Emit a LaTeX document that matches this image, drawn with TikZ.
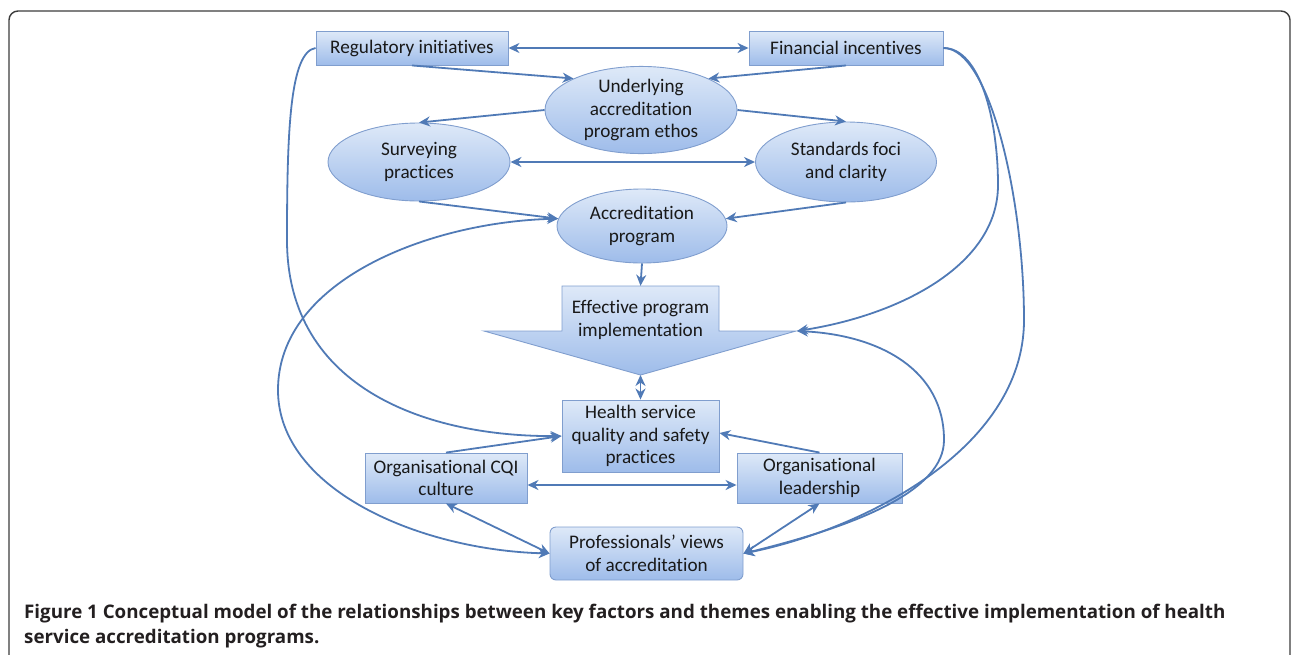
\documentclass[tikz,border=0pt]{standalone}
\usepackage{fontspec}
\setmainfont{Carlito}[Ligatures=NoCommon]
\newfontfamily\capfont{Open Sans}
\usetikzlibrary{shapes.geometric,arrows.meta}
\definecolor{boxtop}{RGB}{222,233,248}
\definecolor{boxbot}{RGB}{158,188,234}
\definecolor{boxline}{RGB}{128,158,206}
\definecolor{arrcol}{RGB}{80,122,182}
\definecolor{framecol}{RGB}{60,60,60}
\definecolor{capcol}{RGB}{35,31,32}
\definecolor{txtcol}{RGB}{25,25,25}
\tikzset{
  shadefill/.style={draw=boxline, line width=0.9pt, top color=boxtop, bottom color=boxbot},
  lbl/.style={align=center, inner sep=0pt, text=txtcol, font=\fontsize{19.2}{22.5}\selectfont},
  rbox/.style={shadefill, lbl, rectangle},
  rrbox/.style={shadefill, lbl, rectangle, rounded corners=6pt},
  ebox/.style={shadefill, lbl, ellipse},
  conn/.style={draw=arrcol, line width=1.8pt, -{Stealth[length=11pt,width=10pt,inset=3.5pt]}},
  biconn/.style={draw=arrcol, line width=1.8pt, {Stealth[length=11pt,width=10pt,inset=3.5pt]}-{Stealth[length=11pt,width=10pt,inset=3.5pt]}},
  capstyle/.style={anchor=base west, inner sep=0pt, text=capcol, font=\capfont\bfseries\fontsize{18.75}{22}\selectfont}
}
\begin{document}
\begin{tikzpicture}[x=1pt,y=-1pt]
\useasboundingbox (0,0) rectangle (1292,654);
\clip (0,0) rectangle (1292,654);
\draw[framecol, line width=1.4pt, rounded corners=9pt] (9,11) rectangle (1290,720);

% nodes
\node[rbox, minimum width=192pt, minimum height=34pt] (reg) at (412,48) {Regulatory initiatives};
\node[rbox, minimum width=194pt, minimum height=34pt] (fin) at (846,48) {Financial incentives};
\node[ebox, minimum width=192pt, minimum height=84pt] (eth) at (641,110) {Underlying\\accreditation\\program ethos};
\node[ebox, minimum width=182pt, minimum height=78pt] (sur) at (419,162) {Surveying\\practices};
\node[ebox, minimum width=181pt, minimum height=80pt] (std) at (846,162) {Standards foci\\and clarity};
\node[ebox, minimum width=170pt, minimum height=74pt] (acc) at (642,226) {Accreditation\\program};

\path[shadefill] (562,286) -- (719,286) -- (719,331) -- (796,331) -- (640.5,375) -- (484,331) -- (562,331) -- cycle;
\node[lbl, minimum width=157pt, minimum height=68pt] (eff) at (640.5,320) {Effective program\\implementation};
\coordinate (effsh) at (797,331);
\coordinate (efftip) at (640.5,375);

\node[rbox, minimum width=157pt, minimum height=72pt] (hsq) at (640.5,436) {Health service\\quality and safety\\practices};
\node[rbox, minimum width=162pt, minimum height=50pt] (cqi) at (446,478) {Organisational CQI\\culture};
\node[rbox, minimum width=165pt, minimum height=50pt] (lead) at (819.5,478) {Organisational\\leadership};
\node[rrbox, minimum width=193pt, minimum height=53pt] (prof) at (646.5,553.5) {Professionals’ views\\of accreditation};

% straight connectors
\draw[biconn] (reg.east) -- (fin.west);
\draw[conn] (reg.south) -- (eth.155);
\draw[conn] (fin.south) -- (eth.25);
\draw[conn] (eth.west) -- (sur.north);
\draw[conn] (eth.east) -- (std.north);
\draw[biconn] (sur.east) -- (std.west);
\draw[conn] (sur.south) -- (acc.175);
\draw[conn] (std.south) -- (acc.5);
\draw[conn] (acc.south) -- (eff.north);
\draw[biconn] (efftip) -- (hsq.north);
\draw[conn] (cqi.north) -- (hsq.west);
\draw[conn] (lead.north) -- ([yshift=3pt]hsq.east);
\draw[biconn] ([yshift=-7pt]cqi.east) -- ([yshift=-7pt]lead.west);
\draw[biconn] (cqi.south) -- (prof.west);
\draw[biconn] (lead.south) -- (prof.east);

% curved connectors, right
\draw[conn] (fin.east) .. controls (980,48) and (998,120) .. (998,185) .. controls (998,265) and (900,315) .. (effsh);
\draw[conn] (fin.east) .. controls (990,48) and (1024,200) .. (1024,320) .. controls (1024,450) and (860,530) .. (prof.east);
\draw[biconn] (prof.east) .. controls (860,525) and (944,490) .. (944,440) .. controls (944,370) and (880,335) .. (effsh);

% curved connectors, left
\draw[conn] (reg.west) .. controls (290,52) and (287,130) .. (287,240) .. controls (287,390) and (430,437) .. (hsq.west);
\draw[biconn] (prof.west) .. controls (420,550) and (278,490) .. (278,390) .. controls (278,280) and (430,222) .. (acc.175);

% caption
\node[capstyle] (cap1) at (24,618) {Figure 1 Conceptual model of the relationships between key factors and themes enabling the effective implementation of health};
\node[capstyle] (cap2) at (24,643) {service accreditation programs.};
\end{tikzpicture}
\end{document}
